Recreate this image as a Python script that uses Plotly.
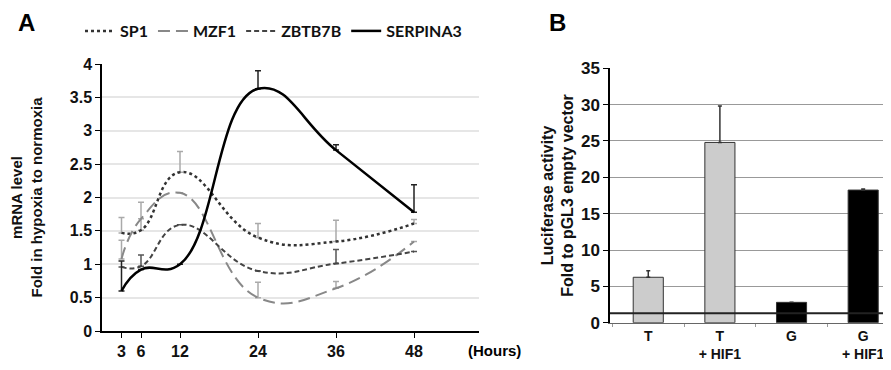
import plotly.graph_objects as go

# ---- Panel A data ----
hours = [3, 6, 12, 24, 36, 48]
sp1 = [1.47, 1.51, 2.38, 1.40, 1.34, 1.61]
sp1_err = [0.23, 0.42, 0.31, 0.21, 0.32, 0.06]
mzf1 = [1.08, 1.68, 2.07, 0.50, 0.64, 1.34]
mzf1_err = [0.28, 0.0, 0.0, 0.23, 0.10, 0.0]
zbtb7b = [0.96, 0.97, 1.59, 0.90, 1.01, 1.19]
zbtb7b_err = [0.0, 0.17, 0.0, 0.0, 0.21, 0.0]
serpina3 = [0.60, 0.92, 1.00, 3.63, 2.71, 1.78]
serpina3_err = [0.45, 0.0, 0.0, 0.27, 0.08, 0.41]
hour_ticks = [3, 6, 12, 24, 36, 48]

# ---- Panel B data ----
groups = ["T", "T<br>+ HIF1", "G", "G<br>+ HIF1"]
luc = [6.25, 24.8, 2.8, 18.25]
luc_err = [0.9, 5.0, 0.0, 0.15]
baseline = 1.3

FONT = "Liberation Sans, Arial, sans-serif"
W, H, OFF = 891, 370, 8  # page body offset of 8 px


def px(x):
    return (x - OFF) / W


def py(y):
    return 1 - (y - OFF) / H


fig = go.Figure()


def add_line(y, err, name, color, dash, width, ecolor):
    fig.add_trace(go.Scatter(
        x=hours, y=y, name=name, mode="lines",
        line=dict(color=color, dash=dash, width=width, shape="spline", smoothing=1.3),
        error_y=dict(type="data", symmetric=False, array=err, arrayminus=[0]*len(err),
                     color=ecolor, thickness=1.5, width=3),
        xaxis="x", yaxis="y"))


add_line(sp1, sp1_err, "SP1", "#333333", "dot", 2.5, "#aaaaaa")
add_line(mzf1, mzf1_err, "MZF1", "#888888", "12px,6px", 2, "#aaaaaa")
add_line(zbtb7b, zbtb7b_err, "ZBTB7B", "#444444", "5px,3px", 2, "#555555")
add_line(serpina3, serpina3_err, "SERPINA3", "#000000", "solid", 2.5, "#222222")

fig.add_trace(go.Bar(
    x=groups, y=luc, showlegend=False,
    marker=dict(color=["#cccccc", "#cccccc", "#000000", "#000000"],
                line=dict(color="#333333", width=1)),
    width=0.42,
    error_y=dict(type="data", symmetric=False, array=luc_err, arrayminus=[0]*4,
                 color="#333333", thickness=1.5, width=2),
    xaxis="x2", yaxis="y2"))

fig.add_shape(type="line", xref="x2 domain", yref="y2", x0=0, x1=1,
              y0=baseline, y1=baseline, line=dict(color="#222222", width=2))

fig.update_layout(
    width=W, height=H,
    margin=dict(l=0, r=0, t=0, b=0, autoexpand=False),
    paper_bgcolor="white", plot_bgcolor="white",
    font=dict(family=FONT, size=13, color="#111111"),
    showlegend=True,
    legend=dict(orientation="h", x=px(80), y=py(14), xanchor="left", yanchor="top",
                font=dict(size=16, family="Lato, Liberation Sans, sans-serif",
                          weight="bold", color="#111111"),
                itemwidth=30, tracegroupgap=0),
    xaxis=dict(domain=[px(102), px(479)], range=[0, 58], tickvals=hour_ticks,
               anchor="y", automargin=False,
               showline=True, linecolor="black", linewidth=1.5,
               ticks="outside", ticklen=5, tickcolor="black",
               showgrid=False, zeroline=False,
               tickfont=dict(size=16, weight="bold")),
    yaxis=dict(domain=[py(331), py(64)], range=[0, 4], dtick=0.5,
               anchor="x", automargin=False,
               showline=True, linecolor="black", linewidth=1.5,
               ticks="outside", ticklen=5, tickcolor="black",
               showgrid=True, gridcolor="#e6e6e6", gridwidth=1.5, zeroline=False,
               tickfont=dict(size=16, weight="bold"),
               title=dict(text="mRNA level<br>Fold in hypoxia to normoxia",
                          font=dict(size=15, weight="bold"), standoff=28)),
    xaxis2=dict(domain=[px(610), 1.0], range=[-0.534, 3.5],
                anchor="y2", automargin=False,
                showline=True, linecolor="#666666", linewidth=1,
                ticks="outside", tickson="boundaries", ticklen=3, tickcolor="#999999",
                showgrid=False, zeroline=False,
                tickfont=dict(size=14, weight="bold")),
    yaxis2=dict(domain=[py(322.7), py(68.3)], range=[0, 35], dtick=5,
                anchor="x2", automargin=False,
                showline=True, linecolor="black", linewidth=1.5,
                ticks="outside", ticklen=5, tickcolor="black",
                showgrid=True, gridcolor="#999999", gridwidth=1, zeroline=False,
                tickfont=dict(size=17, weight="bold"),
                title=dict(text="Luciferase activity<br>Fold to pGL3 empty vector",
                           font=dict(size=16, weight="bold"), standoff=3)),
    annotations=[
        dict(text="A", x=px(26), y=py(22), xref="paper", yref="paper",
             xanchor="center", yanchor="middle",
             showarrow=False, font=dict(size=24, weight="bold", color="black")),
        dict(text="B", x=px(557), y=py(22), xref="paper", yref="paper",
             xanchor="center", yanchor="middle",
             showarrow=False, font=dict(size=24, weight="bold", color="black")),
        dict(text="(Hours)", x=px(495), y=py(350), xref="paper", yref="paper",
             xanchor="center", yanchor="middle",
             showarrow=False, font=dict(size=15, weight="bold", color="black")),
    ],
)

fig.write_html("out.html")
